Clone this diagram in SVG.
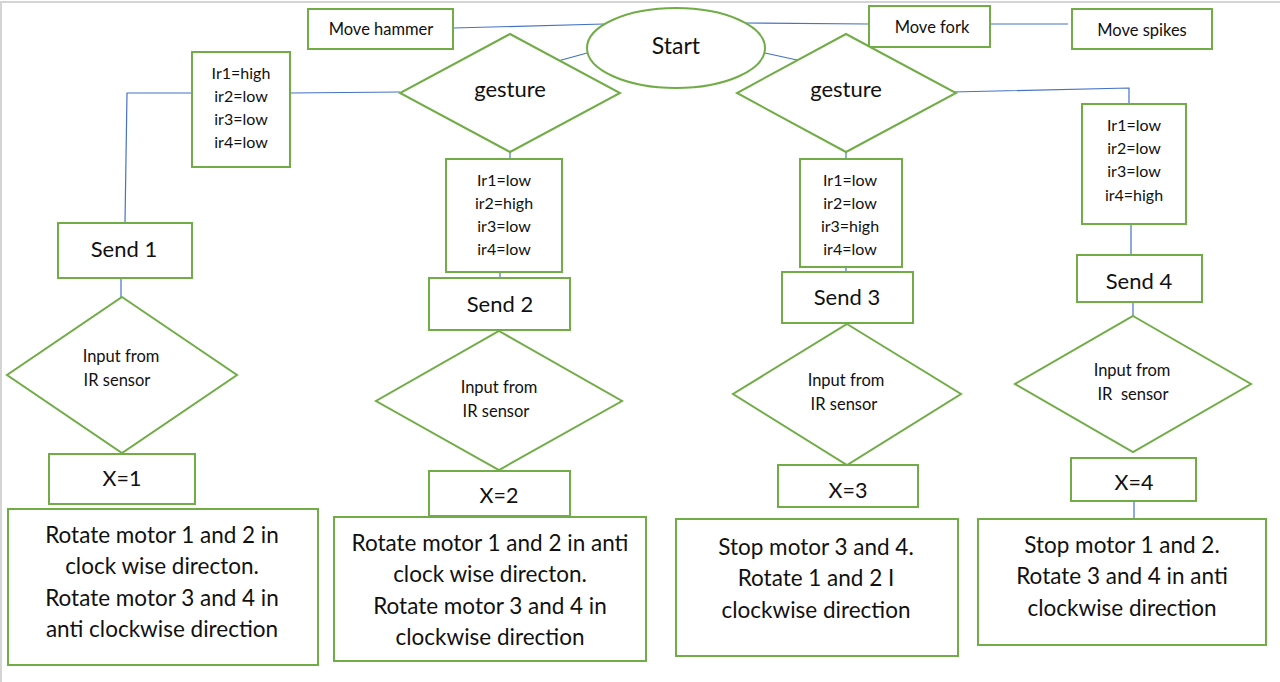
<svg xmlns="http://www.w3.org/2000/svg" width="1280" height="682" viewBox="0 0 1280 682">
<style>
.n{fill:#fff;stroke:#70AD47;stroke-width:2}
.c{fill:none;stroke:#4472C4;stroke-width:1.2}
text{font-family:Lato,"Liberation Sans",sans-serif;fill:#111;text-anchor:middle;dominant-baseline:middle}
.s16{font-size:16px}.sm{font-size:16.5px}.s20{font-size:22px}.s21{font-size:22px}.st{font-size:23px}.sb{font-size:22.5px}.sx{font-size:21.5px}
</style>
<rect width="1280" height="682" fill="#fff"/>
<path d="M1 682V2H1280" fill="none" stroke="#d4d4d4" stroke-width="2"/>
<g id="connectors">
<path class="c" d="M453 28L604 24"/>
<path class="c" d="M743 23L869 24"/>
<path class="c" d="M990 24L1068 24"/>
<path class="c" d="M587 53L558 61"/>
<path class="c" d="M765 53L797 60"/>
<path class="c" d="M400 92L290 93"/>
<path class="c" d="M192 93L127 93L125 223"/>
<path class="c" d="M121 278L121 297"/>
<path class="c" d="M510 152L510 159"/>
<path class="c" d="M500 272L500 278"/>
<path class="c" d="M846 152L846 159"/>
<path class="c" d="M846 267L846 272"/>
<path class="c" d="M952 92L1129 88L1129 104"/>
<path class="c" d="M1131 224L1131 255"/>
<path class="c" d="M1133 302L1133 316"/>
<path class="c" d="M1134 501L1134 519"/>
</g>
<g id="move-hammer"><rect class="n" x="308" y="9" width="145" height="40"/><text class="sm" x="381" y="31">Move hammer</text></g>
<g id="start"><ellipse class="n" cx="676" cy="48" rx="89" ry="40"/><text class="st" x="676" y="48">Start</text></g>
<g id="move-fork"><rect class="n" x="869" y="6" width="121" height="41"/><text class="sm" x="932" y="29">Move fork</text></g>
<g id="move-spikes"><rect class="n" x="1072" y="9" width="140" height="40"/><text class="sm" x="1142" y="32">Move spikes</text></g>
<g id="gesture-1"><polygon class="n" points="510,34 620,93 510,152 400,93"/><text class="s21" x="510" y="91">gesture</text></g>
<g id="gesture-2"><polygon class="n" points="846,34 956,93 846,152 737,93"/><text class="s21" x="846" y="91">gesture</text></g>
<g id="cond-1"><rect class="n" x="192" y="52" width="98" height="115"/>
<text class="s16" x="241" y="75">Ir1=high</text><text class="s16" x="241" y="98">ir2=low</text><text class="s16" x="241" y="121">ir3=low</text><text class="s16" x="241" y="144">ir4=low</text></g>
<g id="cond-2"><rect class="n" x="446" y="159" width="116" height="113"/>
<text class="s16" x="504" y="182">Ir1=low</text><text class="s16" x="504" y="205">ir2=high</text><text class="s16" x="504" y="228">ir3=low</text><text class="s16" x="504" y="251">ir4=low</text></g>
<g id="cond-3"><rect class="n" x="800" y="159" width="102" height="108"/>
<text class="s16" x="850" y="182">Ir1=low</text><text class="s16" x="850" y="205">ir2=low</text><text class="s16" x="850" y="228">ir3=high</text><text class="s16" x="850" y="251">ir4=low</text></g>
<g id="cond-4"><rect class="n" x="1082" y="104" width="104" height="120"/>
<text class="s16" x="1134" y="127">Ir1=low</text><text class="s16" x="1134" y="150">ir2=low</text><text class="s16" x="1134" y="173">ir3=low</text><text class="s16" x="1134" y="197">ir4=high</text></g>
<g id="send-1"><rect class="n" x="58" y="223" width="134" height="55"/><text class="s20" x="124" y="251">Send 1</text></g>
<g id="send-2"><rect class="n" x="429" y="278" width="141" height="52"/><text class="s20" x="500" y="306">Send 2</text></g>
<g id="send-3"><rect class="n" x="782" y="272" width="131" height="51"/><text class="s20" x="847" y="299">Send 3</text></g>
<g id="send-4"><rect class="n" x="1077" y="255" width="125" height="47"/><text class="s20" x="1139" y="283">Send 4</text></g>
<g id="input-1"><polygon class="n" points="122,297 237,375 122,453 7,375"/><text class="sm" x="121" y="358">Input from</text><text class="sm" x="117" y="382">IR sensor</text></g>
<g id="input-2"><polygon class="n" points="499,331 622,401 499,470 376,401"/><text class="sm" x="499" y="389">Input from</text><text class="sm" x="496" y="413">IR sensor</text></g>
<g id="input-3"><polygon class="n" points="847,324 961,394 847,465 733,394"/><text class="sm" x="846" y="382">Input from</text><text class="sm" x="844" y="406">IR sensor</text></g>
<g id="input-4"><polygon class="n" points="1133,316 1251,384 1133,452 1015,384"/><text class="sm" x="1132" y="372">Input from</text><text class="sm" x="1133" y="396" xml:space="preserve">IR  sensor</text></g>
<g id="x-1"><rect class="n" x="49" y="454" width="146" height="50"/><text class="sx" x="122" y="481">X=1</text></g>
<g id="x-2"><rect class="n" x="429" y="471" width="141" height="45"/><text class="sx" x="499" y="498">X=2</text></g>
<g id="x-3"><rect class="n" x="778" y="465" width="140" height="42"/><text class="sx" x="848" y="493">X=3</text></g>
<g id="x-4"><rect class="n" x="1071" y="458" width="125" height="43"/><text class="sx" x="1134" y="485">X=4</text></g>
<g id="action-1"><rect class="n" x="8" y="509" width="310" height="156"/>
<text class="sb" x="162" y="537">Rotate motor 1 and 2 in</text><text class="sb" x="162" y="568">clock wise directon.</text><text class="sb" x="162" y="600">Rotate motor 3 and 4 in</text><text class="sb" x="162" y="631">anti clockwise direction</text></g>
<g id="action-2"><rect class="n" x="334" y="517" width="312" height="144"/>
<text class="sb" x="490" y="545">Rotate motor 1 and 2 in anti</text><text class="sb" x="490" y="576">clock wise directon.</text><text class="sb" x="490" y="608">Rotate motor 3 and 4 in</text><text class="sb" x="490" y="639">clockwise direction</text></g>
<g id="action-3"><rect class="n" x="676" y="519" width="282" height="137"/>
<text class="sb" x="816" y="549">Stop motor 3 and 4.</text><text class="sb" x="816" y="580">Rotate 1 and 2 I</text><text class="sb" x="816" y="612">clockwise direction</text></g>
<g id="action-4"><rect class="n" x="978" y="519" width="288" height="126"/>
<text class="sb" x="1122" y="547">Stop motor 1 and 2.</text><text class="sb" x="1122" y="578">Rotate 3 and 4 in anti</text><text class="sb" x="1122" y="610">clockwise direction</text></g>
</svg>
